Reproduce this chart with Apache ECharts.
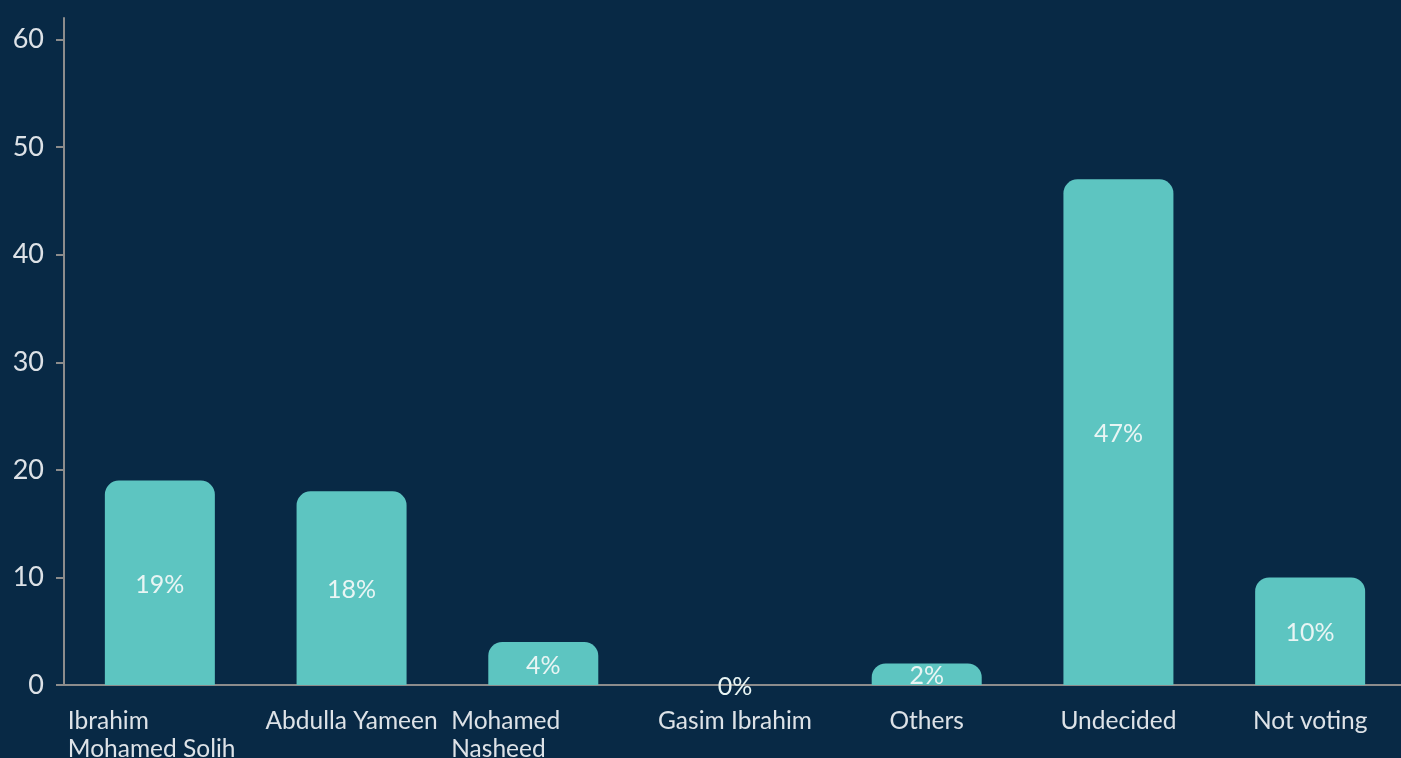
<!DOCTYPE html>
<html>
<head>
<meta charset="UTF-8">
<title>Poll</title>
<script src="https://cdn.jsdelivr.net/npm/echarts@6/dist/echarts.min.js"></script>
<style>
  html, body { margin: 0; padding: 0; background: #082945; overflow: hidden; }
  /* the x axis runs a little past the right edge of the window */
  #main { width: 1406px; height: 758px; }
</style>
</head>
<body>
<div id="main"></div>
<script>
// data
var categories = ['Ibrahim Mohamed Solih', 'Abdulla Yameen', 'Mohamed Nasheed', 'Gasim Ibrahim', 'Others', 'Undecided', 'Not voting'];
var values = [19, 18, 4, 0, 2, 47, 10];
var yTicks = [0, 10, 20, 30, 40, 50, 60];
// long names wrap onto two lines, left aligned
var wrapped = {
  'Ibrahim Mohamed Solih': ['Ibrahim', 'Mohamed Solih'],
  'Mohamed Nasheed': ['Mohamed', 'Nasheed']
};

var chart = echarts.init(document.getElementById('main'));
var axisColor = '#8c8c8c';
var textColor = '#dde2e7';

chart.setOption({
  backgroundColor: '#082945',
  animation: false,
  textStyle: { fontFamily: 'Lato' },
  // labels are cut off at the bottom edge, so don't let the grid shrink for them
  grid: { left: 64, right: 0, top: 18, bottom: 73, containLabel: false, outerBoundsMode: 'none' },
  xAxis: {
    type: 'category',
    data: categories,
    axisLine: { lineStyle: { color: axisColor, width: 2 } },
    axisTick: { alignWithLabel: true, length: 7, lineStyle: { color: axisColor, width: 2 } },
    axisLabel: {
      interval: 0,
      color: textColor,
      fontSize: 24.5,
      lineHeight: 28,
      margin: 22,
      width: 184,
      formatter: function (v) {
        if (wrapped[v]) {
          return wrapped[v].map(function (s) { return '{l|' + s + '}'; }).join('\n');
        }
        return v;
      },
      rich: {
        l: { align: 'left', color: textColor, fontSize: 24.5, lineHeight: 28, fontFamily: 'Lato' }
      }
    }
  },
  yAxis: {
    type: 'value',
    min: 0,
    max: 62,
    interval: 10,
    splitLine: { show: false },
    axisLine: { show: true, lineStyle: { color: axisColor, width: 2 } },
    axisTick: { show: true, length: 8, customValues: yTicks, lineStyle: { color: axisColor, width: 2 } },
    axisLabel: { color: textColor, fontSize: 27, margin: 20, customValues: yTicks }
  },
  series: [{
    type: 'bar',
    data: values,
    barWidth: 110,
    itemStyle: { color: '#5dc5c1', borderRadius: [14, 14, 0, 0] },
    label: {
      show: true,
      position: 'inside',
      offset: [0, 2],
      formatter: '{c}%',
      color: '#e9f5f4',
      fontSize: 25,
      fontFamily: 'Lato'
    }
  }]
});
</script>
</body>
</html>
